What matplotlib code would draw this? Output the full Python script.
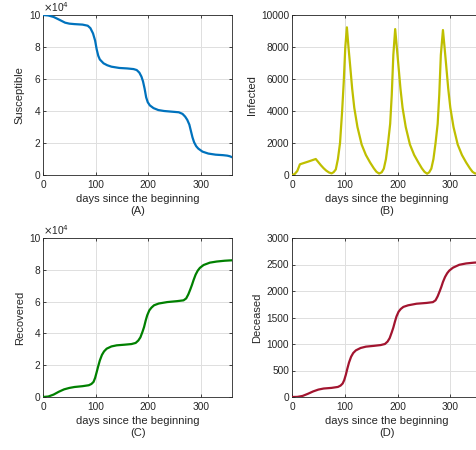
import matplotlib
matplotlib.use("Agg")
import matplotlib.pyplot as plt
from matplotlib.ticker import FuncFormatter

plt.rcParams['font.family'] = ['Liberation Sans', 'DejaVu Sans']

# ---------------- data ----------------
days_S = [0, 10, 20, 30, 42, 50, 60, 75, 85, 90, 95, 99, 102, 105, 108, 115, 122, 130, 145,
          160, 172, 178, 183, 187, 190, 193, 196, 199, 203, 210, 219, 230, 244, 258, 265, 270,
          274, 278, 281, 284, 287, 291, 295, 303, 314, 328, 342, 350, 355, 360]
susceptible = [100000, 99700, 98800, 97200, 95200, 94600, 94300, 94000, 93300, 91800, 88500,
               84000, 78500, 74500, 72200, 69800, 68600, 67700, 66900, 66600, 66200, 65600,
               64000, 61500, 58500, 54000, 48500, 45500, 43500, 41800, 40600, 40000, 39600,
               39200, 38200, 36500, 34500, 31500, 27500, 23500, 20500, 18000, 16500, 14600,
               13400, 12700, 12400, 12100, 11700, 11000]

days_I = [0, 5, 10, 13, 15, 30, 45, 50, 55, 60, 65, 70, 75, 79, 83, 87, 91, 95, 98, 101, 104,
          107, 110, 114, 118, 124, 132, 140, 148, 155, 160, 165, 170, 174, 178, 182, 186, 189,
          192, 195.5, 198.5, 201.5, 205.5, 209.5, 215.5, 223.5, 231.5, 239.5, 246, 251, 256,
          260, 264, 268, 272, 276, 279, 282, 286, 289, 292, 296, 300, 306, 314, 322, 330, 337,
          342, 347, 352, 356, 360]
infected = [0, 60, 250, 500, 670, 830, 1000, 800, 600, 420, 270, 160, 100, 180, 350, 1000, 2000,
            4000, 5800, 8000, 9230, 8000, 6900, 5400, 4200, 3000, 1900, 1250, 780, 420, 200, 90,
            170, 400, 1000, 2000, 3200, 5000, 7500, 9120, 8000, 6900, 5400, 4200, 3000, 1900,
            1250, 780, 420, 200, 80, 170, 400, 1000, 2000, 3200, 5000, 7500, 9060, 8000, 6900,
            5400, 4200, 3000, 1900, 1250, 780, 420, 200, 90, 130, 200, 280]

days_R = [0, 10, 20, 30, 40, 50, 60, 75, 87, 92, 96, 99, 102, 105, 108, 112, 116, 121, 130, 140,
          155, 168, 176, 181, 185, 189, 192, 195, 198, 202, 206, 211, 220, 236, 255, 267, 272,
          276, 280, 283, 286, 290, 294, 298, 305, 317, 330, 345, 360]
recovered = [0, 300, 1500, 3300, 4800, 5700, 6300, 6800, 7400, 8200, 9500, 12000, 15700, 19500,
             23000, 26500, 28700, 30400, 31800, 32500, 32900, 33300, 34000, 35500, 37500, 41000,
             44000, 48000, 51400, 54500, 56200, 57700, 58800, 59700, 60300, 60800, 62000, 64500,
             67800, 70500, 73500, 77000, 79500, 81200, 83000, 84500, 85200, 85700, 86000]

days_D = days_R
deceased = [0, 2, 20, 60, 105, 140, 160, 172, 190, 215, 255, 320, 420, 540, 650, 760, 830, 880,
            925, 950, 965, 980, 1000, 1045, 1110, 1220, 1310, 1420, 1520, 1610, 1660, 1700, 1730,
            1760, 1775, 1790, 1825, 1900, 2000, 2080, 2170, 2265, 2335, 2385, 2440, 2495, 2520,
            2535, 2545]

x_ticks = [0, 100, 200, 300]
xlabel = "days since the beginning"

# ---------------- figure ----------------
W, H = 477, 450
fig = plt.figure(figsize=(W / 100, H / 100), dpi=100)

def ax_at(x0, y0, x1, y1):
    return fig.add_axes([x0 / W, 1 - y1 / H, (x1 - x0) / W, (y1 - y0) / H])

panels = [
    (ax_at(43, 15, 232.5, 175), days_S, susceptible, '#0072BD', 'Susceptible', '(A)',
     100000, [0, 20000, 40000, 60000, 80000, 100000], True),
    (ax_at(292, 15, 482, 175), days_I, infected, '#BFBF00', 'Infected', '(B)',
     10000, [0, 2000, 4000, 6000, 8000, 10000], False),
    (ax_at(43, 238, 232.5, 397), days_R, recovered, '#008000', 'Recovered', '(C)',
     100000, [0, 20000, 40000, 60000, 80000, 100000], True),
    (ax_at(292, 238, 482, 397), days_D, deceased, '#A2142F', 'Deceased', '(D)',
     3000, [0, 500, 1000, 1500, 2000, 2500, 3000], False),
]

tc = '#262626'
for ax, xd, yd, col, ylab, tag, ymax, yt, sci in panels:
    ax.plot(xd, yd, color=col, lw=1.6, solid_joinstyle='round', zorder=3)
    ax.set_xlim(0, 360)
    ax.set_ylim(0, ymax)
    ax.set_xticks(x_ticks)
    ax.set_yticks(yt)
    if sci:
        ax.yaxis.set_major_formatter(FuncFormatter(lambda v, p: f"{v / 1e4:g}"))
        ax.text(0.0, 1.005, r"$\times$10$^{4}$", transform=ax.transAxes, fontsize=7.3,
                color=tc, ha='left', va='bottom')
    ax.grid(True, color='#DFDFDF', lw=0.7, zorder=0)
    ax.set_axisbelow(True)
    ax.tick_params(direction='in', length=2.5, width=0.6, top=True, right=True,
                   labelsize=7.3, colors=tc)
    ax.tick_params(axis='x', pad=3.5)
    ax.tick_params(axis='y', pad=2)
    for s in ax.spines.values():
        s.set_color('#262626')
        s.set_linewidth(0.6)
    ax.set_ylabel(ylab, fontsize=8, color=tc, labelpad=3)
    ax.set_xlabel(xlabel + "\n" + tag, fontsize=8, color=tc, labelpad=3, linespacing=1.3)

fig.savefig("out.png", dpi=100)
